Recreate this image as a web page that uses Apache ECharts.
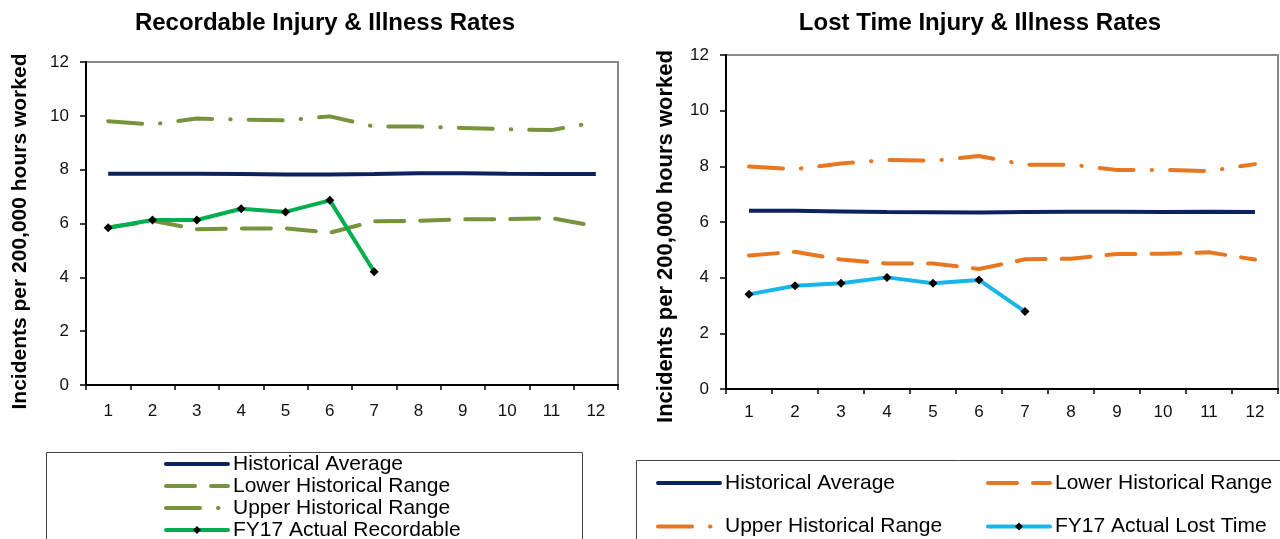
<!DOCTYPE html>
<html>
<head>
<meta charset="utf-8">
<script src="https://cdn.jsdelivr.net/npm/echarts@6/dist/echarts.min.js"></script>
<style>
  html, body { margin: 0; padding: 0; background: #ffffff; }
  #wrap { position: relative; width: 1280px; height: 539px; overflow: hidden; background: #ffffff; }
  .chart { position: absolute; left: 0; top: 0; width: 1280px; height: 539px; }
</style>
</head>
<body>
<div id="wrap">
  <div id="recordable" class="chart"></div>
  <div id="losttime" class="chart"></div>
</div>
<script>
// Months of the fiscal year
const months = ['1', '2', '3', '4', '5', '6', '7', '8', '9', '10', '11', '12'];

// Recordable injury & illness rates (incidents per 200,000 hours worked)
const recAverage = [7.85, 7.85, 7.85, 7.84, 7.82, 7.82, 7.84, 7.87, 7.87, 7.85, 7.84, 7.84];
const recLower   = [5.85, 6.10, 5.79, 5.81, 5.82, 5.66, 6.08, 6.10, 6.16, 6.16, 6.20, 5.90];
const recUpper   = [9.80, 9.68, 9.90, 9.86, 9.83, 9.98, 9.60, 9.60, 9.55, 9.50, 9.47, 9.76];
const recActual  = [5.84, 6.13, 6.13, 6.55, 6.43, 6.86, 4.21];

// Lost time injury & illness rates (incidents per 200,000 hours worked)
const ltAverage = [6.40, 6.40, 6.38, 6.36, 6.35, 6.34, 6.36, 6.37, 6.37, 6.36, 6.37, 6.36];
const ltLower   = [4.80, 4.93, 4.65, 4.51, 4.51, 4.31, 4.66, 4.68, 4.85, 4.86, 4.91, 4.65];
const ltUpper   = [7.99, 7.90, 8.10, 8.23, 8.20, 8.37, 8.06, 8.06, 7.87, 7.87, 7.83, 8.08];
const ltActual  = [3.40, 3.71, 3.80, 4.01, 3.80, 3.92, 2.78];

const FONT = "'Liberation Sans', Arial, Helvetica, sans-serif";
const NAVY = '#0b2160';
const AXIS_NAME = 'Incidents per 200,000 hours worked';
const LONG_DASH = [29, 16];
const DASH_DOT = [34, 18, 0.5, 18];

function axisPair(grid, opts) {
  return {
    xAxis: {
      type: 'category',
      data: months,
      boundaryGap: true,
      axisLine: { lineStyle: { color: '#000', width: 2 } },
      axisTick: { show: true, length: 5, lineStyle: { color: '#000', width: 1.5 } },
      axisLabel: { color: '#111', fontSize: 17, fontFamily: FONT, margin: opts.xMargin },
      splitLine: { show: false }
    },
    yAxis: {
      type: 'value',
      min: 0, max: 12, interval: 2,
      name: AXIS_NAME,
      nameLocation: 'middle',
      nameGap: opts.nameGap,
      nameTextStyle: { fontSize: opts.nameSize, fontWeight: 'bold', color: '#000', fontFamily: FONT,
        padding: [0, opts.nameShift, 0, 0] },
      axisLine: { show: true, lineStyle: { color: '#000', width: 2 } },
      axisTick: { show: true, length: 6, lineStyle: { color: '#000', width: 1.5 } },
      axisLabel: { color: '#111', fontSize: 17, fontFamily: FONT, margin: 17 },
      splitLine: { show: false }
    },
    grid: Object.assign({ show: true, borderColor: '#8a8a8a', borderWidth: 2, backgroundColor: 'transparent' }, grid)
  };
}

function seriesSet(avg, lower, upper, actual, rangeColor, actualColor, actualName) {
  return [
    { name: 'Historical Average', type: 'line', data: avg, symbol: 'none', z: 3,
      lineStyle: { color: NAVY, width: 4 }, itemStyle: { color: NAVY } },
    { name: 'Lower Historical Range', type: 'line', data: lower, symbol: 'none', z: 2,
      lineStyle: { color: rangeColor, width: 4, type: LONG_DASH, cap: 'round' }, itemStyle: { color: rangeColor } },
    { name: 'Upper Historical Range', type: 'line', data: upper, symbol: 'none', z: 2,
      lineStyle: { color: rangeColor, width: 4, type: DASH_DOT, cap: 'round' }, itemStyle: { color: rangeColor } },
    { name: actualName, type: 'line', data: actual, symbol: 'diamond', symbolSize: 9, z: 4,
      lineStyle: { color: actualColor, width: 4 }, itemStyle: { color: '#000' } }
  ];
}

// Legend entries: plain lines carry no marker, the actual series keeps its diamond
function legendItems(names, actualName) {
  return names.map(n => n === actualName ? { name: n } : { name: n, itemStyle: { opacity: 0 } });
}

const legendText = { fontSize: 21, lineHeight: 22, color: '#000', fontFamily: FONT };
const legendLine = { width: 4, cap: 'round' };

// Left chart: recordable rates
const left = axisPair({ left: 86, top: 62, width: 532, height: 323 },
  { xMargin: 18, nameGap: 55, nameSize: 21, nameShift: 16 });
const recOption = {
  animation: false,
  title: { text: 'Recordable Injury & Illness Rates', left: 325, top: 11, padding: 0, textAlign: 'center',
    textStyle: { fontSize: 24, fontWeight: 'bold', color: '#000', fontFamily: FONT } },
  grid: left.grid, xAxis: left.xAxis, yAxis: left.yAxis,
  legend: { orient: 'vertical', left: 164, top: 453, height: 120, padding: 0, itemGap: 0, itemWidth: 62, itemHeight: 10,
    selectedMode: false, textStyle: legendText, lineStyle: legendLine,
    data: legendItems(['Historical Average', 'Lower Historical Range', 'Upper Historical Range', 'FY17 Actual Recordable'],
      'FY17 Actual Recordable') },
  graphic: [{ type: 'rect', silent: true, z: -1,
    shape: { x: 46.5, y: 452.5, width: 536, height: 140 },
    style: { fill: 'none', stroke: '#444', lineWidth: 1 } }],
  series: seriesSet(recAverage, recLower, recUpper, recActual, '#77933c', '#00b050', 'FY17 Actual Recordable')
};

// Right chart: lost time rates
const right = axisPair({ left: 726, top: 55, width: 552, height: 334 },
  { xMargin: 15, nameGap: 49, nameSize: 22, nameShift: 29 });
const ltOption = {
  animation: false,
  title: { text: 'Lost Time Injury & Illness Rates', left: 980, top: 11, padding: 0, textAlign: 'center',
    textStyle: { fontSize: 24, fontWeight: 'bold', color: '#000', fontFamily: FONT } },
  grid: right.grid, xAxis: right.xAxis, yAxis: right.yAxis,
  legend: [
    { orient: 'vertical', left: 656, top: 472, height: 120, padding: 0, itemGap: 21.5, itemWidth: 62, itemHeight: 10,
      selectedMode: false, textStyle: legendText, lineStyle: legendLine,
      data: legendItems(['Historical Average', 'Upper Historical Range'], 'FY17 Actual Lost Time') },
    { orient: 'vertical', left: 986, top: 472, height: 120, padding: 0, itemGap: 21.5, itemWidth: 62, itemHeight: 10,
      selectedMode: false, textStyle: legendText, lineStyle: legendLine,
      data: legendItems(['Lower Historical Range', 'FY17 Actual Lost Time'], 'FY17 Actual Lost Time') }
  ],
  graphic: [{ type: 'rect', silent: true, z: -1,
    shape: { x: 636.5, y: 460.5, width: 700, height: 200 },
    style: { fill: 'none', stroke: '#444', lineWidth: 1 } }],
  series: seriesSet(ltAverage, ltLower, ltUpper, ltActual, '#e87722', '#18b4ea', 'FY17 Actual Lost Time')
};

echarts.init(document.getElementById('recordable'), null, { renderer: 'canvas' }).setOption(recOption);
echarts.init(document.getElementById('losttime'), null, { renderer: 'canvas' }).setOption(ltOption);
</script>
</body>
</html>
